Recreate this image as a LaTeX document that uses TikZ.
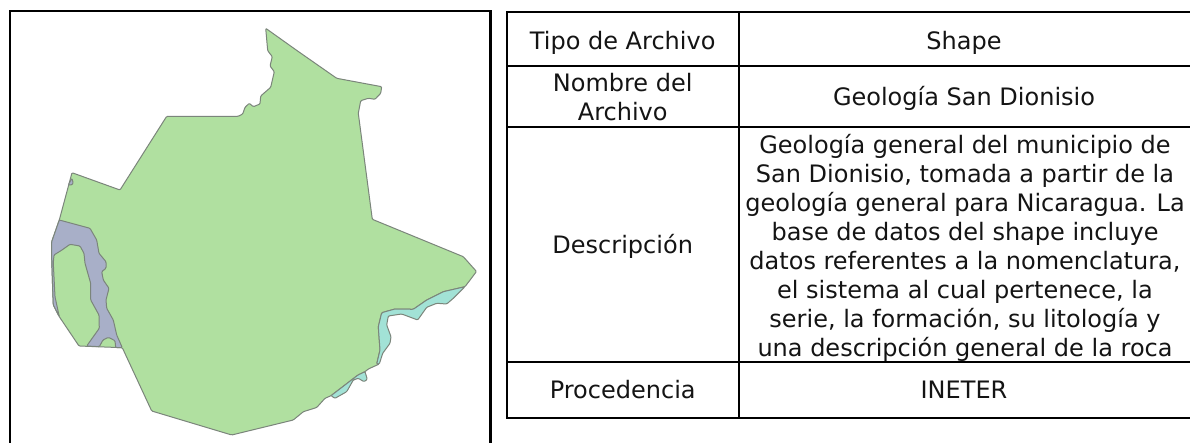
\documentclass[tikz,border=0pt]{standalone}
\usepackage{fontspec}
\setmainfont{DejaVu Sans}
\tikzset{
  geo/.style={draw=outlinegray,line width=1pt,line join=round,rounded corners=1pt},
  rule/.style={draw=black,line width=2pt},
  framerule/.style={draw=black,line width=2.4pt},
  cell/.style={font=\fontsize{24}{29}\selectfont,align=center,inner sep=0pt,text=black!92},
  cellbase/.style={cell,anchor=base}
}
\definecolor{outlinegray}{HTML}{7B857B}
\definecolor{geogreen}{HTML}{B0E0A0}
\definecolor{geoblue}{HTML}{A8AFC8}
\definecolor{geoteal}{HTML}{A2E2D6}
\begin{document}
\begin{tikzpicture}[x=1pt,y=-1pt]
\useasboundingbox (0,0) rectangle (1190,443);
\fill[white] (0,0) rectangle (1190,443);
% frame of the map
\draw[framerule] (10,443) -- (10,11) -- (490.5,11) -- (490.5,443);
% main territory
\path[geo,fill=geogreen] (265.7,28.3) -- (298.3,51.5) -- (336.7,78.3) -- (381.7,86.7) -- (380.7,93.3) -- (375,99.3) -- (368.3,98.3) -- (360.7,100.7) -- (358.3,113.3) -- (372.3,219.3) -- (463.3,256.7) -- (476.5,271.5) -- (465,286.7)
 -- (443.3,291.7) -- (426.7,300) -- (413.3,309.3) -- (395,309) -- (381.7,312.7) -- (378.3,326.7) -- (380,350) -- (376.7,364) -- (379.3,364) -- (368.3,369) -- (365,371.7) -- (358,375) -- (331,395.7) -- (325,398.3) -- (316.7,407.5) -- (303.3,411.7) -- (293.3,420) -- (231.7,435) -- (151.7,411) -- (122.3,347.7) -- (79,346) -- (59.3,316.7) -- (53.3,305) -- (52.7,290) -- (51.7,258.3) -- (51.7,241.7) -- (59.3,220) -- (72,172.7) -- (120,190) -- (166.7,116.3) -- (238.3,116.3) -- (242.7,114) -- (245,107.3) -- (249.3,103.3) -- (253.3,106.7) -- (260,104) -- (260.7,96) -- (270.7,87.3) -- (274.3,71.7) -- (270,66) -- (272.3,56.7) -- (267.7,50.7) -- cycle;
% blue-grey unit, west side
\path[geo,fill=geoblue] (59.3,220) -- (90,228.3) -- (96.7,240) -- (99,253.3) -- (106,261.7) -- (106,268.3) -- (101.7,271.7) -- (103.3,280) -- (109,288.3) -- (106,300) -- (106.7,308.3) -- (113.3,320) -- (116.7,335) -- (122.3,347.7) -- (115.7,347.7) -- (115,340.7) -- (108.3,337.3) -- (103,340) -- (99.3,346.7) -- (86.7,346) -- (99.3,328.3) -- (99,315) -- (90.7,300) -- (90.7,283.3) -- (85,263.3) -- (84,253.3) -- (80,246) -- (70,244.3) -- (62,250) -- (54,255) -- (53.3,263) -- (55,296.7) -- (59.3,316.7) -- (53.3,305) -- (52.7,290) -- (51.7,258.3) -- (51.7,241.7) -- cycle;
\path[geo,fill=geoblue] (68.3,185) -- (71.7,178.3) -- (73.3,182.7) -- (71.7,185) -- cycle;
% teal unit, south-east side
\path[geo,fill=geoteal] (465,286.7) -- (443.3,291.7) -- (426.7,300) -- (413.3,309.3) -- (395,309) -- (381.7,312.7) -- (378.3,326.7) -- (380,350) -- (376.7,364) -- (379.3,364) -- (382.7,353.3) -- (390,343.3) -- (391,336.7) -- (386.7,325) -- (388.3,316) -- (401.7,314) -- (417.7,320) -- (426.7,307.3) -- (436.7,303.3) -- (446.7,304) -- (453.3,298.3) -- cycle;
\path[geo,fill=geoteal] (365,371.7) -- (367.3,379.3) -- (364,381.7) -- (358.3,378.3) -- (353.3,380) -- (346.7,391.7) -- (335,398.3) -- (331,395.7) -- (358,375) -- cycle;
% table rules
\draw[rule] (506,12.5) -- (1190,12.5);
\draw[rule] (506,66.5) -- (1190,66.5);
\draw[rule] (506,127.3) -- (1190,127.3);
\draw[rule] (506,362) -- (1190,362);
\draw[rule] (506,418) -- (1190,418);
\draw[rule] (506.7,11.5) -- (506.7,419);
\draw[rule] (739,11.5) -- (739,419);
% table text
\node[cellbase] (k1) at (622.7,49.3) {Tipo de Archivo};
\node[cellbase] (v1) at (964,49.3) {Shape};
\node[cell] (k2) at (622.7,97.2) {Nombre del\\Archivo};
\node[cellbase] (v2) at (964,105.5) {Geología San Dionisio};
\node[cellbase] (k3) at (622.7,254) {Descripción};
\node[cell] (v3) at (965,247.5) {Geología general del municipio de\\San Dionisio, tomada a partir de la\\geología general para Nicaragua. La\\base de datos del shape incluye\\datos referentes a la nomenclatura,\\el sistema al cual pertenece, la\\serie, la formación, su litología y\\una descripción general de la roca};
\node[cellbase] (k4) at (622.7,398.3) {Procedencia};
\node[cellbase] (v4) at (964,398.3) {INETER};
\end{tikzpicture}
\end{document}
